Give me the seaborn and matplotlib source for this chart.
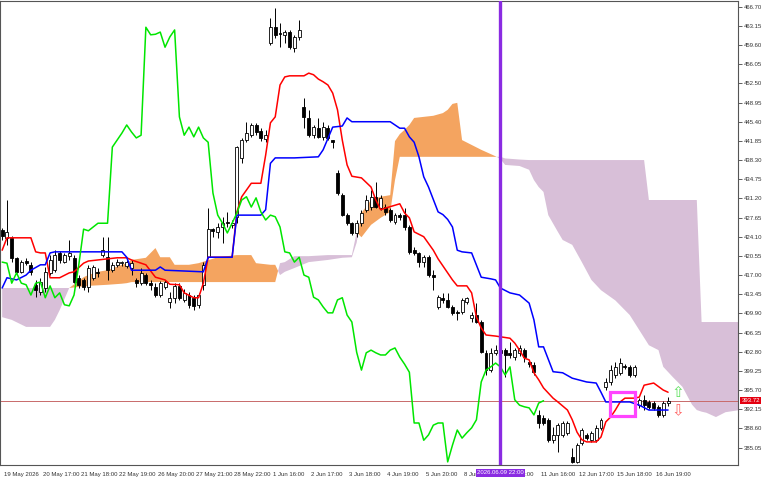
import numpy as np
import pandas as pd
import matplotlib
matplotlib.use("Agg")
import matplotlib.pyplot as plt
from matplotlib.patches import Rectangle
from matplotlib.transforms import ScaledTranslation, blended_transform_factory
import seaborn as sns

# hourly candles (bar 0 = 19 May 2026)
opens = [425.3, 423.9, 423.9, 420.2, 417.6, 419.6, 418.9, 415.2, 413.9, 414.6,
         417.4, 417.9, 421.1, 419.4, 420.5, 420.2, 416.5, 416.1, 414.8, 416.5,
         417.6, 420.7, 420.3, 417.9, 418.9, 419.2, 418.7, 418.3, 416.1, 415.5,
         417.0, 415.5, 414.8, 413.3, 414.8, 412.0, 412.8, 415.0, 412.3, 413.3,
         412.8, 411.5, 415.2, 420.3, 425.5, 425.0, 425.9, 426.8, 426.3, 427.8,
         438.7, 442.0, 442.9, 444.8, 443.7, 442.2, 460.0, 462.9, 461.8, 461.5,
         462.0, 459.1, 461.1, 448.1, 446.1, 442.9, 444.2, 442.6, 444.2, 442.0,
         435.9, 431.8, 428.1, 426.6, 424.8, 426.6, 429.1, 429.6, 431.5, 429.4,
         429.6, 429.1, 426.8, 428.1, 428.1, 425.9, 421.6, 421.1, 419.4, 420.3,
         417.0, 411.1, 412.8, 412.4, 411.1, 410.2, 410.2, 412.0, 409.0, 409.6,
         408.3, 402.6, 399.4, 402.6, 403.1, 403.1, 402.6, 401.8, 402.6, 403.1,
         400.9, 400.3, 391.1, 390.5, 390.2, 386.4, 387.4, 387.4, 387.7, 383.3,
         382.4, 385.9, 387.4, 386.5, 386.5, 388.7, 396.3, 397.2, 398.5, 398.9,
         400.2, 400.0, 398.5, 392.9, 393.9, 393.5, 393.3, 392.6, 391.1, 393.3]
highs = [425.7, 430.9, 424.2, 420.3, 419.8, 420.2, 419.4, 416.1, 416.5, 418.5,
         420.7, 421.6, 421.5, 421.1, 423.5, 420.7, 417.0, 416.5, 418.9, 418.9,
         418.3, 424.0, 424.0, 419.4, 420.0, 419.6, 419.8, 419.8, 416.5, 418.3,
         417.4, 416.1, 415.5, 415.9, 416.1, 413.9, 415.5, 415.5, 414.4, 413.9,
         413.3, 413.7, 419.4, 429.4, 425.7, 426.6, 427.8, 428.7, 427.2, 440.9,
         442.4, 445.3, 445.2, 445.2, 444.2, 443.9, 464.6, 466.5, 463.7, 462.4,
         462.4, 461.5, 464.2, 449.8, 447.6, 444.8, 446.1, 445.3, 444.8, 442.0,
         436.5, 432.2, 428.5, 426.8, 427.2, 429.1, 431.8, 432.8, 434.2, 431.8,
         430.2, 429.4, 428.5, 428.5, 429.4, 426.3, 422.2, 421.3, 420.7, 420.7,
         417.9, 413.3, 413.7, 413.7, 411.5, 410.5, 412.8, 412.9, 410.2, 411.8,
         408.7, 403.1, 403.5, 404.0, 403.7, 403.5, 404.6, 403.5, 404.0, 403.5,
         401.3, 400.9, 392.0, 391.1, 390.5, 388.9, 389.6, 390.0, 390.0, 385.0,
         385.9, 388.7, 387.8, 388.1, 389.2, 390.5, 397.9, 400.3, 400.9, 401.6,
         400.5, 400.3, 400.3, 394.2, 394.8, 393.9, 393.7, 392.9, 393.7, 394.4]
lows = [423.5, 422.6, 419.4, 417.4, 417.4, 418.9, 417.0, 412.9, 413.3, 413.9,
        417.0, 417.6, 419.2, 419.2, 419.8, 415.5, 414.6, 414.2, 413.9, 416.1,
        416.6, 420.3, 416.1, 417.6, 418.5, 418.7, 418.3, 417.0, 414.8, 415.2,
        415.2, 414.2, 412.9, 412.9, 414.4, 410.9, 411.8, 412.3, 412.0, 410.9,
        410.5, 410.9, 414.2, 420.2, 424.0, 423.9, 422.9, 425.9, 425.7, 426.6,
        437.8, 441.6, 442.6, 442.9, 441.8, 441.6, 459.6, 460.9, 459.2, 460.0,
        458.9, 458.3, 460.5, 444.2, 442.6, 442.4, 442.4, 442.0, 442.0, 440.5,
        431.8, 427.9, 426.3, 424.4, 424.0, 426.1, 428.7, 429.1, 429.4, 429.1,
        428.1, 426.8, 426.5, 427.2, 425.3, 420.9, 420.7, 418.5, 418.5, 416.6,
        414.2, 410.7, 411.8, 410.9, 409.6, 408.7, 409.8, 411.6, 408.3, 408.1,
        402.6, 398.5, 399.0, 402.2, 402.0, 398.1, 401.6, 401.3, 402.0, 400.9,
        400.0, 398.5, 388.7, 389.2, 386.1, 385.9, 384.2, 387.0, 387.4, 382.2,
        382.2, 385.5, 386.5, 386.1, 386.1, 388.3, 395.7, 396.6, 397.9, 398.5,
        399.6, 398.1, 398.1, 392.4, 392.0, 392.2, 392.0, 390.7, 390.7, 392.7]
closes = [424.2, 425.0, 420.2, 417.6, 419.4, 419.2, 417.6, 414.2, 415.7, 417.6,
          419.8, 420.7, 419.8, 420.7, 421.1, 415.7, 415.2, 414.8, 418.3, 418.5,
          417.3, 421.6, 417.9, 418.9, 419.4, 419.4, 419.4, 419.2, 415.5, 417.4,
          415.5, 415.2, 413.3, 415.5, 415.7, 412.8, 415.0, 412.8, 413.7, 411.5,
          411.3, 413.3, 418.9, 425.5, 425.2, 425.9, 426.6, 426.6, 426.6, 440.7,
          442.0, 443.3, 444.8, 443.5, 442.4, 442.9, 462.9, 461.5, 461.6, 462.0,
          459.2, 461.1, 462.4, 446.3, 442.9, 444.4, 442.6, 444.4, 442.4, 441.6,
          432.2, 428.1, 426.6, 424.8, 426.6, 428.5, 430.9, 431.5, 429.6, 431.3,
          428.7, 427.2, 428.1, 427.8, 425.9, 421.3, 421.1, 419.4, 420.3, 417.0,
          416.6, 412.9, 412.4, 411.1, 410.0, 410.0, 412.4, 412.8, 409.6, 408.3,
          402.7, 399.4, 402.6, 403.1, 402.6, 402.2, 402.2, 403.1, 403.5, 401.8,
          400.5, 399.0, 389.6, 389.6, 386.4, 387.4, 389.2, 389.6, 389.6, 382.4,
          385.5, 388.3, 386.8, 387.8, 388.7, 390.2, 397.2, 399.4, 400.0, 400.7,
          400.0, 398.5, 400.0, 393.9, 392.9, 392.6, 392.4, 391.1, 393.3, 393.72]

# Tenkan-sen (red) and Kijun-sen (blue), read as (bar, price) breakpoints
tenkan_bars = [0, 1, 6, 7, 8, 9, 10, 12, 14, 15, 17, 18, 20, 24, 26, 27, 30, 32, 34, 35,
               37, 38, 40, 41, 42, 43, 48, 49, 50, 52, 54, 55, 56, 57, 58, 59, 60, 63, 64, 65,
               66, 67, 68, 69, 70, 71, 72, 73, 75, 77, 78, 79, 80, 83, 84, 85, 86, 88, 90, 91,
               94, 95, 97, 98, 99, 100, 101, 103, 106, 107, 108, 109, 110, 111, 112, 113, 115, 116, 118, 119,
               120, 121, 122, 124, 125, 126, 127, 128, 129, 130, 132, 133, 134, 136, 138, 139]
tenkan_vals = [421.6, 423.9, 423.9, 421.3, 421.1, 421.1, 416.5, 416.5, 417.4, 417.6,
               419.2, 419.6, 419.8, 420.2, 420.2, 419.8, 418.9, 416.6, 416.1, 415.3,
               415.2, 413.7, 412.8, 412.8, 415.5, 420.3, 420.3, 428.7, 431.5, 434.0,
               434.0, 439.2, 445.2, 446.3, 452.2, 453.7, 453.9, 453.9, 454.4, 454.1,
               453.3, 452.8, 452.2, 450.7, 447.6, 442.0, 437.4, 435.3, 435.0, 433.3,
               430.9, 429.1, 429.4, 430.2, 428.5, 427.6, 425.0, 424.1, 421.6, 420.0,
               416.1, 415.0, 415.0, 413.7, 409.2, 407.2, 405.9, 405.7, 405.3, 404.4,
               403.1, 401.6, 401.3, 398.9, 397.6, 396.1, 394.2, 393.5, 392.0, 390.2,
               387.9, 386.5, 386.1, 386.1, 387.0, 389.8, 390.7, 392.0, 393.5, 394.2,
               394.2, 394.4, 396.6, 397.0, 395.7, 395.3]
kijun_bars = [0, 1, 3, 5, 6, 8, 9, 10, 11, 25, 26, 27, 32, 33, 34, 42, 43, 48, 49, 54,
              55, 56, 57, 61, 66, 67, 69, 71, 72, 73, 81, 83, 84, 85, 86, 87, 88, 89, 91, 92,
              93, 94, 95, 96, 98, 100, 102, 103, 104, 106, 108, 110, 111, 112, 113, 115, 117, 119, 122, 124,
              125, 126, 131, 133, 135, 139]
kijun_vals = [414.6, 416.5, 416.1, 417.0, 417.9, 418.9, 418.9, 421.1, 421.3, 421.3,
              420.3, 417.9, 417.9, 418.5, 417.9, 417.6, 420.3, 420.3, 428.1, 428.1,
              429.1, 437.7, 438.7, 438.7, 438.9, 440.2, 444.4, 444.6, 446.1, 445.4,
              445.4, 444.2, 444.2, 442.6, 441.6, 438.9, 435.2, 433.3, 428.7, 428.2,
              427.3, 425.9, 421.6, 421.3, 421.1, 416.6, 416.3, 416.1, 414.6, 413.7,
              413.3, 411.8, 408.7, 403.7, 403.7, 399.1, 398.9, 397.9, 397.2, 397.0,
              395.3, 393.5, 393.5, 392.9, 392.0, 392.0]

# Senkou span A / B (cloud), same breakpoints for both
cloud_bars = [0, 2, 5, 10, 11, 12, 14, 17, 18, 20, 22, 25, 26, 27, 30, 32, 33, 35, 36, 39,
              41, 45, 49, 52, 53, 56, 57, 58, 59, 61, 64, 68, 71, 73, 74, 75, 77, 79, 81, 82,
              83, 84, 85, 86, 88, 90, 92, 93, 94, 95, 96, 98, 100, 102, 103, 104, 105, 108, 110, 111,
              112, 113, 114, 116, 117, 119, 121, 123, 125, 128, 131, 133, 134, 135, 137, 138, 140, 142, 144, 145,
              146, 147, 149, 151, 154]
span_a = [409.2, 408.7, 407.4, 407.4, 408.7, 410.5, 414.6, 416.6, 417.0, 417.6,
          417.9, 418.9, 419.2, 419.8, 420.2, 422.0, 420.3, 420.3, 418.9, 418.9,
          419.2, 420.3, 420.7, 420.7, 419.2, 418.9, 418.9, 417.0, 417.6, 418.3,
          419.4, 419.8, 420.2, 420.3, 423.0, 428.5, 430.9, 431.5, 431.8, 441.8,
          443.1, 443.9, 444.8, 446.1, 446.3, 446.5, 447.0, 447.6, 448.7, 448.9,
          442.0, 441.1, 440.2, 439.4, 439.0, 438.5, 437.4, 437.2, 436.5, 434.6,
          433.3, 432.4, 428.1, 425.0, 423.5, 422.6, 419.4, 416.1, 414.2, 412.3,
          409.6, 406.8, 405.4, 404.0, 403.1, 400.0, 398.1, 396.3, 393.0, 392.0,
          391.7, 391.5, 390.7, 391.6, 392.0]
span_b = [414.6, 414.6, 414.6, 414.6, 414.6, 414.6, 414.6, 414.9, 415.0, 415.1,
          415.2, 415.4, 415.5, 415.7, 415.7, 415.7, 415.7, 415.7, 415.7, 415.7,
          415.7, 415.7, 415.7, 415.7, 415.7, 415.7, 415.7, 419.2, 419.4, 420.5,
          420.5, 420.7, 420.7, 420.7, 424.9, 424.0, 426.3, 427.6, 428.7, 434.6,
          438.9, 438.9, 438.9, 438.9, 438.9, 438.9, 438.9, 438.9, 438.9, 438.9,
          438.9, 438.9, 438.9, 438.9, 438.9, 438.9, 438.6, 438.4, 438.3, 438.3,
          438.3, 438.3, 438.3, 438.3, 438.3, 438.3, 438.3, 438.3, 438.3, 438.3,
          438.3, 438.3, 438.3, 430.9, 430.9, 430.9, 430.9, 430.9, 430.9, 430.9,
          408.3, 408.3, 408.3, 408.3, 408.3]

chikou_shift = 26
price_now = 393.72
marked_bar = 104
marked_label = "2026.06.09 22:00"

ytick_vals = [466.70, 463.15, 459.60, 456.05, 452.50, 448.95, 445.40, 441.85, 438.30, 434.75,
              431.20, 427.65, 424.10, 420.55, 417.00, 413.45, 409.90, 406.35, 402.80, 399.25,
              395.70, 392.15, 388.60, 385.05]
xtick_bars = [0, 8, 16, 24, 32, 40, 48, 56, 64, 72, 80, 88, 96, 104, 112, 120, 128, 136]
xtick_labels = ["19 May 2026", "20 May 17:00", "21 May 18:00", "22 May 19:00", "26 May 20:00",
                "27 May 21:00", "28 May 22:00", "1 Jun 16:00", "2 Jun 17:00", "3 Jun 18:00",
                "4 Jun 19:00", "5 Jun 20:00", "8 Jun 21:00", "9 Jun 22:00", "11 Jun 16:00",
                "12 Jun 17:00", "15 Jun 18:00", "16 Jun 19:00"]

sns.set_style("white")
plt.rcParams["font.family"] = ["Liberation Sans", "DejaVu Sans"]

df = pd.DataFrame({"bar": np.arange(len(closes)), "open": opens, "high": highs,
                   "low": lows, "close": closes})
chikou = df.assign(bar=df["bar"] - chikou_shift).query("bar >= 0")

fig = plt.figure(figsize=(7.68, 4.8), dpi=100)
ax = fig.add_axes([0, 15 / 480, 738 / 768, 464 / 480])

# cloud
sa = np.array(span_a)
sb = np.array(span_b)
ax.fill_between(cloud_bars, sa, sb, where=sa >= sb, interpolate=True,
                color="#f4a460", lw=0, zorder=1)
ax.fill_between(cloud_bars, sa, sb, where=sa < sb, interpolate=True,
                color="#d8bfd8", lw=0, zorder=1)

ax.axhline(price_now, color="#c86a6a", lw=0.7, zorder=2)

# candles
up = df["close"] >= df["open"]
ax.vlines(df["bar"], df["low"], df["high"], color="black", lw=0.7, zorder=3)
ax.bar(df["bar"], (df["close"] - df["open"]).abs(),
       bottom=df[["open", "close"]].min(axis=1), width=0.62,
       color=np.where(up, "white", "black"), edgecolor="black", linewidth=0.6, zorder=3.5)

# ichimoku lines
sns.lineplot(x=tenkan_bars, y=tenkan_vals, ax=ax, color="#ff0000", lw=1.1, zorder=4)
sns.lineplot(x=kijun_bars, y=kijun_vals, ax=ax, color="#0000ff", lw=1.1, zorder=4)
sns.lineplot(data=chikou, x="bar", y="close", ax=ax, color="#00e600", lw=1.1, zorder=4)

ax.axvline(marked_bar, color="#8a2be2", lw=2.4, zorder=5)
ax.add_patch(Rectangle((126.9, 390.9), 5.3, 4.44, fill=False, ec="#ff44ff", lw=2.3, zorder=6))
ax.text(141.1, 395.3, "\u21e7", color="#5ee05e", fontsize=11, ha="center", va="center",
        family="DejaVu Sans", zorder=6)
ax.text(141.1, 391.9, "\u21e9", color="#ff6464", fontsize=11, ha="center", va="center",
        family="DejaVu Sans", zorder=6)

ax.set_xlim(-0.45, 153.6)
ax.set_ylim(381.82, 467.76)
ax.set_xlabel("")
ax.set_ylabel("")

ax.yaxis.tick_right()
ax.set_yticks(ytick_vals, [f"{v:.2f}" for v in ytick_vals])
ax.tick_params(axis="y", direction="out", length=3, width=0.6, labelsize=4.3, pad=1.5,
               color="#444444", labelcolor="#333333")
ax.set_xticks(xtick_bars, xtick_labels)
ax.tick_params(axis="x", direction="out", length=4, width=0.6, labelsize=4.3, pad=1,
               color="#444444", labelcolor="#333333")
shift = ScaledTranslation(1.5 / 72, 0, fig.dpi_scale_trans)
for lab in ax.get_xticklabels():
    lab.set_horizontalalignment("left")
    lab.set_transform(lab.get_transform() + shift)

for sp in ax.spines.values():
    sp.set_color("#555555")
    sp.set_linewidth(0.8)

# price tag and marked-bar tag (the tag covers the axis labels, as on the chart)
ty = blended_transform_factory(ax.transAxes, ax.transData)
ax.text(1.0, price_now, f"{price_now:.2f}", transform=ty + ScaledTranslation(2.4 / 72, 0, fig.dpi_scale_trans),
        ha="left", va="center", fontsize=4.3, color="white", clip_on=False, zorder=7,
        bbox=dict(boxstyle="square,pad=0.15", fc="#e4000f", ec="none"))
tx = blended_transform_factory(ax.transData, ax.transAxes)
ax.text(marked_bar, -0.017, marked_label, transform=tx, ha="center", va="center",
        fontsize=4.3, color="white", clip_on=False, zorder=7,
        bbox=dict(boxstyle="square,pad=0.2", fc="#8a2be2", ec="none"))

fig.savefig("out.png", dpi=100)
